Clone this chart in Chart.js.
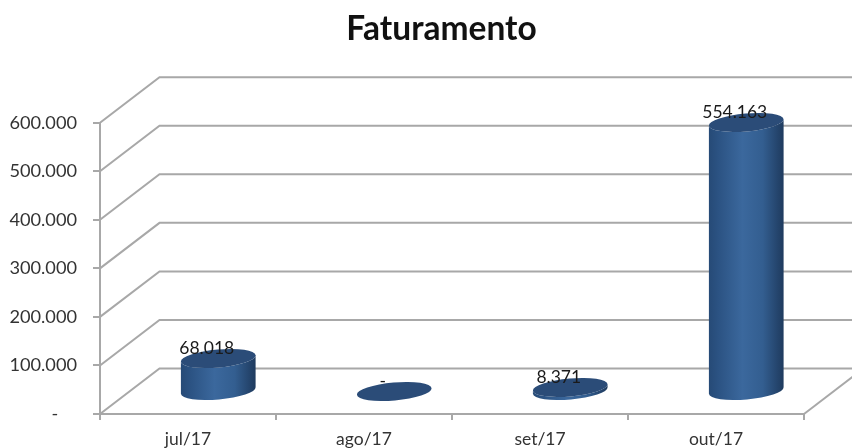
<!DOCTYPE html>
<html lang="pt">
<head>
<meta charset="utf-8">
<title>Faturamento</title>
<style>
html,body{margin:0;padding:0;background:#fff;overflow:hidden}
canvas{display:block;filter:blur(0.45px)}
</style>
<script src="https://cdn.jsdelivr.net/npm/chart.js@4"></script>
</head>
<body>
<canvas id="c" width="852" height="448"></canvas>
<script>
const categories = ['jul/17', 'ago/17', 'set/17', 'out/17'];
const faturamento = [68018, 0, 8371, 554163];
const valueLabels = ['68.018', '-', '8.371', '554.163'];
const yTickLabels = ['-    ', '100.000', '200.000', '300.000', '400.000', '500.000', '600.000'];

const FONT = 'Lato, Carlito, Calibri, sans-serif';
const DEPTH_X = 59.5, DEPTH_Y = 45.5;
const GRID = '#a8a8a8';
const ELLIPSE_B = 9, ELLIPSE_ROT = -5 * Math.PI / 180;

Chart.BarElement.prototype.draw = function (ctx) {
  const a = this.width / 2;
  const cx = this.x + DEPTH_X / 2 + 0.5;
  const lift = 22.5;
  const yt = this.y - lift, yb = this.base - lift;
  ctx.save();
  if (yb - yt > 0.5) {
    const g = ctx.createLinearGradient(cx - a, 0, cx + a, 0);
    g.addColorStop(0, '#264a76');
    g.addColorStop(0.12, '#2b5282');
    g.addColorStop(0.45, '#3b689d');
    g.addColorStop(0.72, '#335e90');
    g.addColorStop(0.92, '#24446c');
    g.addColorStop(1, '#1f3b5e');
    ctx.fillStyle = g;
    ctx.beginPath();
    ctx.ellipse(cx, yb, a, ELLIPSE_B, ELLIPSE_ROT, 0, Math.PI);
    ctx.ellipse(cx, yt, a, ELLIPSE_B, ELLIPSE_ROT, Math.PI, 0, true);
    ctx.closePath();
    ctx.fill();
  }
  ctx.fillStyle = '#2b4c78';
  ctx.beginPath();
  ctx.ellipse(cx, yt, a, ELLIPSE_B, ELLIPSE_ROT, 0, Math.PI * 2);
  ctx.fill();
  ctx.restore();
};

const wallsPlugin = {
  id: 'walls',
  afterLayout(chart) {
    chart.scales.y.left = 0;
  },
  beforeDatasetsDraw(chart) {
    const { ctx, chartArea: ca, scales: { y } } = chart;
    ctx.save();
    ctx.strokeStyle = GRID;
    ctx.lineWidth = 2;
    y.ticks.forEach(t => {
      const py = y.getPixelForValue(t.value);
      ctx.beginPath();
      ctx.moveTo(ca.left, py);
      ctx.lineTo(ca.left + DEPTH_X, py - DEPTH_Y);
      ctx.lineTo(ca.right + DEPTH_X, py - DEPTH_Y);
      ctx.stroke();
    });
    ctx.beginPath();
    ctx.moveTo(ca.right, ca.bottom);
    ctx.lineTo(ca.right + DEPTH_X, ca.bottom - DEPTH_Y);
    ctx.stroke();
    ctx.restore();
  },
  afterDatasetsDraw(chart) {
    const { ctx } = chart;
    const bars = chart.getDatasetMeta(0).data;
    ctx.save();
    ctx.font = '17.5px ' + FONT;
    ctx.fillStyle = '#1a1a1a';
    ctx.textAlign = 'center';
    ctx.textBaseline = 'middle';
    bars.forEach((b, i) => {
      ctx.fillText(valueLabels[i], b.x + DEPTH_X / 2 - 11, b.y - 22.5 - 10.5);
    });
    ctx.restore();
  }
};

new Chart(document.getElementById('c'), {
  type: 'bar',
  data: {
    labels: categories,
    datasets: [{
      label: 'Faturamento',
      data: faturamento,
      backgroundColor: '#35608f',
      barPercentage: 0.426,
      categoryPercentage: 1,
      clip: false
    }]
  },
  plugins: [wallsPlugin],
  options: {
    responsive: false,
    animation: false,
    devicePixelRatio: 1,
    layout: { autoPadding: false, padding: { left: 79, right: 48, top: 0, bottom: 0 } },
    plugins: {
      legend: { display: false },
      tooltip: { enabled: false },
      title: {
        display: true,
        text: 'Faturamento',
        color: '#111',
        font: { family: FONT, size: 33.5, weight: 'bold', lineHeight: 1.2 },
        padding: { top: 9, bottom: 73.5 }
      }
    },
    scales: {
      x: {
        afterFit(s) { s.height = 34; },
        border: { display: true, color: GRID, width: 2 },
        grid: { drawOnChartArea: false, drawTicks: true, tickLength: 6, color: GRID, lineWidth: 2, offset: true },
        ticks: { color: '#333', font: { family: FONT, size: 17.5 }, padding: 9, maxRotation: 0, autoSkip: false }
      },
      y: {
        min: 0,
        max: 600000,
        afterFit(s) { s.width = 21; },
        border: { display: true, color: GRID, width: 2 },
        grid: { drawOnChartArea: false, drawTicks: true, tickLength: 7, color: GRID, lineWidth: 2 },
        ticks: {
          stepSize: 100000,
          color: '#333',
          font: { family: FONT, size: 18.2 },
          padding: 16,
          callback(v, i) { return yTickLabels[i]; }
        }
      }
    }
  }
});
</script>
</body>
</html>
